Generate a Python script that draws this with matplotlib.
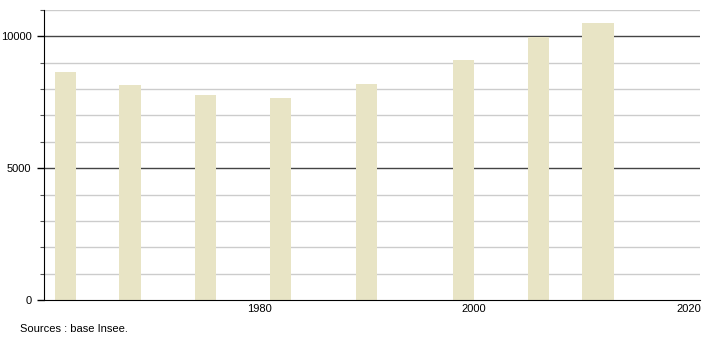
import matplotlib.pyplot as plt
from matplotlib.ticker import MultipleLocator

plt.rcParams["font.family"] = ["Liberation Sans", "DejaVu Sans"]

years = [1962, 1968, 1975, 1982, 1990, 1999, 2006, 2011, 2012]
population = [8630, 8140, 7760, 7680, 8180, 9090, 9990, 10500, 10520]

fig = plt.figure(figsize=(7.1, 3.4), dpi=100)
ax = fig.add_axes([44 / 710, 40 / 340, 656 / 710, 290 / 340])

# grid behind the bars: light every 1000, dark every 5000
for v in range(1000, 11001, 1000):
    if v % 5000 == 0:
        ax.axhline(v, color="#444444", linewidth=1.0, zorder=1)
    else:
        ax.axhline(v, color="#cccccc", linewidth=1.0, zorder=1)

ax.bar(years, population, width=2, color="#e8e4c5", zorder=2)

ax.set_xlim(1960, 2021)
ax.set_ylim(0, 11000)

ax.yaxis.set_major_locator(MultipleLocator(5000))
ax.yaxis.set_minor_locator(MultipleLocator(1000))
ax.set_xticks([1980, 2000, 2020])

ax.tick_params(axis="y", which="major", length=5, width=1, pad=4, labelsize=8, color="black")
ax.tick_params(axis="y", which="minor", length=3, width=0.8, color="#555555")
ax.tick_params(axis="x", length=0, pad=3, labelsize=8)

for side in ["top", "right"]:
    ax.spines[side].set_visible(False)
ax.spines["left"].set_color("black")
ax.spines["bottom"].set_color("black")
ax.spines["bottom"].set_zorder(3)

fig.text(20 / 710, 1 - 329 / 340, "Sources : base Insee.", fontsize=8, va="center", ha="left")

fig.savefig("out.png", dpi=100)
